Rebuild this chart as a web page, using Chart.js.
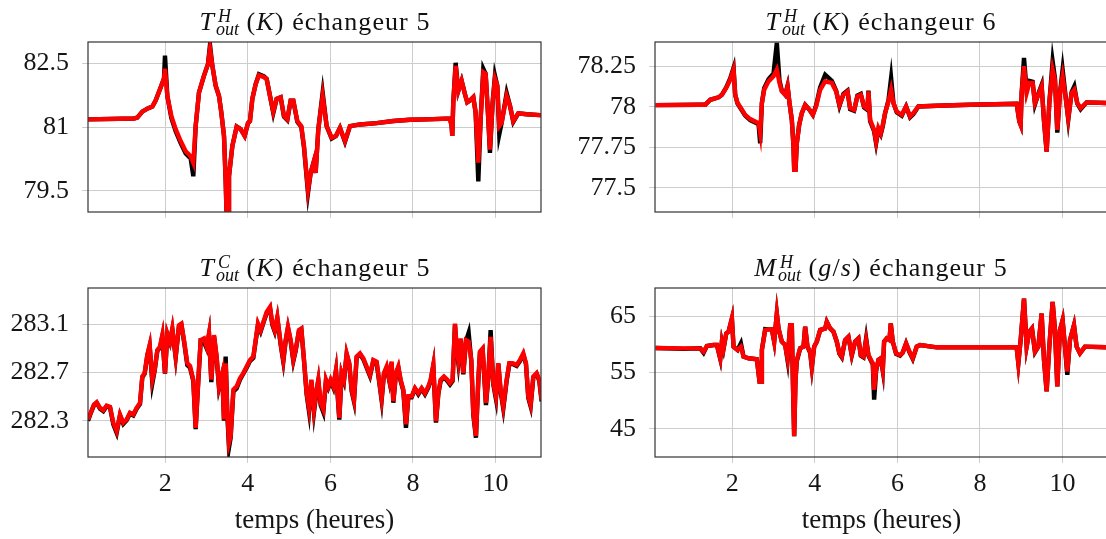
<!DOCTYPE html>
<html>
<head>
<meta charset="utf-8">
<script src="https://cdn.jsdelivr.net/npm/chart.js@4.4.1/dist/chart.umd.min.js"></script>
<style>
  html, body { margin:0; padding:0; background:#ffffff; width:1106px; height:539px; overflow:hidden; }
  canvas { position:absolute; }
  .ttl { position:absolute; font-family:'Liberation Serif', 'Times New Roman', serif; font-size:26px; line-height:30px;
         color:#111; white-space:nowrap; transform:translateX(-50%); letter-spacing:1.1px; }
  .ttl i { font-style:italic; }
  .ss { display:inline-block; vertical-align:-5px; font-size:18px; line-height:13px; font-style:italic; letter-spacing:0; margin-left:1px; }
  .ss span { display:block; }
  .ss .sup { padding-left:2px; }
</style>
</head>
<body>
<canvas id="tl" width="553" height="250" style="left:0px;top:0px"></canvas>
<canvas id="tr" width="560" height="250" style="left:560px;top:0px"></canvas>
<canvas id="bl" width="553" height="289" style="left:0px;top:250px"></canvas>
<canvas id="br" width="560" height="289" style="left:560px;top:250px"></canvas>

<div class="ttl" style="left:315px;top:7px"><i>T</i><span class="ss"><span class="sup">H</span><span class="sub">out</span></span> (<i>K</i>) échangeur 5</div>
<div class="ttl" style="left:881px;top:7px"><i>T</i><span class="ss"><span class="sup">H</span><span class="sub">out</span></span> (<i>K</i>) échangeur 6</div>
<div class="ttl" style="left:315px;top:253px"><i>T</i><span class="ss"><span class="sup">C</span><span class="sub">out</span></span> (<i>K</i>) échangeur 5</div>
<div class="ttl" style="left:881px;top:253px"><i>M</i><span class="ss"><span class="sup">H</span><span class="sub">out</span></span> (<i>g</i>/<i>s</i>) échangeur 5</div>

<script>
// ---------- shared axis values ----------
const xTicks = [2, 4, 6, 8, 10];
const xLabel = 'temps (heures)';

// ---------- T_out^H (K), échangeur 5 ----------
const tlHours = [0.131,1.245,1.325,1.446,1.567,1.689,1.769,1.874,1.971,1.995,2.052,2.149,2.254,2.375,2.496,2.617,2.681,2.738,2.818,2.940,3.036,3.085,3.141,3.222,3.303,3.359,3.424,3.464,3.488,3.521,3.545,3.626,3.731,3.827,3.924,4.005,4.053,4.110,4.191,4.271,4.392,4.457,4.538,4.618,4.699,4.796,4.877,4.957,5.038,5.103,5.200,5.296,5.361,5.458,5.522,5.603,5.643,5.708,5.813,5.910,6.031,6.136,6.232,6.353,6.475,6.717,7.120,7.524,7.927,8.331,8.896,8.936,8.952,8.976,9.033,9.098,9.178,9.259,9.315,9.380,9.461,9.517,9.582,9.638,9.703,9.760,9.824,9.864,9.929,9.985,10.042,10.090,10.147,10.268,10.349,10.429,10.550,10.752,11.075,11.12];
const tlRed = [81.18,81.20,81.22,81.36,81.43,81.48,81.62,81.89,82.14,82.37,81.73,81.26,80.95,80.67,80.43,80.31,80.16,81.02,81.81,82.21,82.48,82.84,82.45,81.97,81.73,81.34,80.79,79.76,78.89,78.97,79.84,80.55,81.01,80.95,80.79,81.09,81.14,81.66,82.01,82.22,82.17,82.13,81.73,81.36,81.66,81.70,81.26,81.18,81.62,81.62,81.14,81.02,80.55,79.52,79.92,80.20,79.92,80.95,81.73,81.02,80.75,80.79,80.98,80.67,81.02,81.06,81.09,81.14,81.17,81.18,81.20,81.02,80.79,81.58,82.44,81.85,82.09,81.77,81.58,81.62,81.70,81.34,80.16,81.18,82.29,82.25,81.18,80.47,81.58,82.13,81.97,81.02,81.10,81.73,81.50,81.14,81.32,81.30,81.28,81.28];
const tlBlack = [81.18,81.20,81.22,81.36,81.43,81.48,81.62,81.89,82.14,82.68,81.73,81.21,80.90,80.62,80.38,80.26,79.84,81.02,81.81,82.21,82.48,82.93,82.45,81.97,81.73,81.34,80.79,79.76,78.89,78.97,79.84,80.55,81.01,80.95,80.79,81.09,81.14,81.66,82.01,82.24,82.19,82.13,81.73,81.33,81.66,81.70,81.24,81.16,81.62,81.62,81.12,81.00,80.52,79.45,79.92,80.20,79.92,80.95,81.81,81.02,80.73,80.79,80.98,80.65,81.02,81.06,81.09,81.14,81.17,81.18,81.20,81.02,80.79,81.58,82.51,81.85,82.09,81.77,81.58,81.62,81.70,81.34,79.72,81.18,82.37,82.25,81.18,80.39,81.58,82.21,81.97,80.83,81.10,81.80,81.50,81.12,81.32,81.30,81.28,81.28];
const tlYTicks = [79.5, 81, 82.5];

// ---------- T_out^H (K), échangeur 6 ----------
const trHours = [0.146,1.227,1.348,1.469,1.670,1.751,1.856,1.952,2.033,2.073,2.130,2.210,2.315,2.436,2.557,2.638,2.678,2.719,2.775,2.880,3.001,3.081,3.146,3.202,3.283,3.340,3.388,3.444,3.485,3.501,3.533,3.565,3.622,3.686,3.767,3.872,3.953,4.033,4.130,4.251,4.412,4.517,4.598,4.695,4.791,4.856,4.952,5.033,5.114,5.194,5.275,5.299,5.340,5.436,5.485,5.541,5.598,5.646,5.703,5.784,5.848,5.905,5.985,6.106,6.211,6.308,6.388,6.509,6.953,7.759,8.888,8.953,8.985,9.009,9.066,9.130,9.195,9.275,9.332,9.413,9.493,9.550,9.614,9.679,9.759,9.816,9.872,9.937,10.001,10.058,10.138,10.219,10.284,10.356,10.437,10.582,11.050,11.12];
const trRed = [78.010,78.012,78.012,78.043,78.058,78.074,78.116,78.167,78.229,78.074,78.023,77.992,77.950,77.924,77.909,77.899,77.837,78.023,78.105,78.157,78.188,78.229,78.147,78.095,78.074,78.126,78.023,77.919,77.754,77.610,77.610,77.775,77.888,77.961,78.012,77.981,77.950,78.002,78.105,78.157,78.147,78.095,78.012,78.074,78.095,77.992,77.981,78.064,78.074,78.002,77.986,78.095,77.919,77.857,77.785,77.868,77.837,77.888,77.961,78.033,78.105,78.023,77.971,77.950,78.002,77.940,77.961,78.002,78.006,78.012,78.019,77.909,77.888,78.085,78.250,78.085,78.147,78.147,78.023,78.074,78.126,77.919,77.723,78.023,78.229,78.167,77.857,78.085,78.188,78.085,77.930,78.085,78.105,78.023,77.992,78.027,78.023,78.023];
const trBlack = [78.010,78.012,78.012,78.043,78.058,78.074,78.120,78.175,78.240,78.074,78.020,77.988,77.945,77.918,77.903,77.893,77.775,78.023,78.115,78.170,78.205,78.395,78.160,78.100,78.074,78.130,78.023,77.919,77.754,77.610,77.610,77.775,77.888,77.961,78.012,77.981,77.950,78.010,78.120,78.198,78.160,78.100,78.005,78.080,78.100,77.985,77.975,78.070,78.080,77.995,77.980,78.100,77.910,77.850,77.775,77.860,77.830,77.880,77.961,78.040,78.178,78.023,77.965,77.945,78.002,77.935,77.955,78.002,78.006,78.012,78.019,77.909,77.888,78.085,78.302,78.100,78.160,78.155,78.015,78.080,78.135,77.910,77.723,78.023,78.281,78.175,77.840,78.085,78.229,78.100,77.920,78.090,78.126,78.020,77.985,78.027,78.023,78.023];
const trYTicks = [77.5, 77.75, 78, 78.25];

// ---------- T_out^C (K), échangeur 5 ----------
const blHours = [0.131,0.195,0.276,0.341,0.421,0.502,0.583,0.664,0.744,0.825,0.906,0.986,1.067,1.148,1.228,1.309,1.390,1.446,1.503,1.567,1.624,1.689,1.745,1.810,1.874,1.931,1.995,2.052,2.116,2.173,2.254,2.334,2.391,2.455,2.536,2.601,2.681,2.738,2.802,2.859,2.940,3.004,3.061,3.117,3.182,3.246,3.303,3.383,3.424,3.464,3.505,3.545,3.585,3.650,3.731,3.811,3.892,3.973,4.053,4.134,4.191,4.247,4.312,4.392,4.457,4.538,4.594,4.651,4.715,4.796,4.860,4.917,4.973,5.038,5.103,5.159,5.240,5.296,5.361,5.425,5.482,5.538,5.603,5.667,5.708,5.764,5.829,5.893,5.950,6.006,6.071,6.136,6.216,6.273,6.329,6.394,6.458,6.515,6.571,6.636,6.717,6.797,6.878,6.959,7.040,7.120,7.201,7.241,7.298,7.362,7.427,7.483,7.524,7.588,7.645,7.701,7.766,7.830,7.887,7.968,8.048,8.129,8.210,8.290,8.371,8.428,8.492,8.557,8.613,8.670,8.750,8.831,8.896,8.960,9.017,9.057,9.098,9.154,9.219,9.283,9.348,9.412,9.461,9.525,9.582,9.622,9.687,9.767,9.824,9.880,9.945,10.009,10.066,10.123,10.187,10.268,10.333,10.413,10.510,10.590,10.671,10.736,10.792,10.849,10.914,10.994,11.059,11.115];
const blRed = [282.311,282.366,282.434,282.453,282.407,282.388,282.426,282.415,282.284,282.215,282.352,282.284,282.311,282.366,282.352,282.407,282.448,282.667,282.695,282.845,282.927,282.640,282.722,282.886,282.914,283.010,282.695,283.023,282.955,283.064,282.832,283.092,283.105,282.968,282.777,282.755,282.640,282.242,282.640,282.968,282.982,282.914,283.023,282.640,283.010,282.832,282.585,282.695,282.311,282.777,282.366,282.119,282.174,282.558,282.585,282.653,282.695,282.749,282.804,282.832,282.968,283.105,283.051,283.133,283.201,283.242,283.105,283.051,283.160,282.941,282.804,282.968,283.078,282.968,282.804,282.886,283.051,283.064,282.804,282.530,282.407,282.640,282.393,282.558,282.640,282.448,282.393,282.640,282.585,282.640,282.585,282.722,282.325,282.695,282.640,282.859,282.777,282.558,282.475,282.832,282.859,282.818,282.749,282.681,282.804,282.790,282.585,282.489,282.695,282.749,282.640,282.790,282.462,282.695,282.749,282.640,282.558,282.270,282.503,282.503,282.571,282.530,282.571,282.530,282.585,282.640,282.763,282.297,282.530,282.640,282.667,282.640,282.612,282.640,283.105,282.914,282.804,282.982,282.695,282.968,282.955,282.804,282.366,282.174,282.640,282.873,282.900,282.448,282.667,282.996,282.612,282.503,282.777,282.558,282.421,282.640,282.777,282.777,282.763,282.804,282.859,282.777,282.503,282.434,282.667,282.695,282.640,282.475];
const blBlack = [282.300,282.360,282.430,282.450,282.400,282.380,282.420,282.410,282.270,282.200,282.345,282.275,282.305,282.360,282.345,282.400,282.440,282.660,282.690,282.840,282.920,282.610,282.715,282.880,282.905,283.000,282.690,283.015,282.950,283.055,282.825,283.085,283.100,282.960,282.760,282.740,282.630,282.230,282.630,282.960,282.950,282.900,283.015,282.620,283.000,282.820,282.575,282.690,282.300,282.832,282.350,282.078,282.160,282.540,282.570,282.640,282.690,282.740,282.795,282.820,282.960,283.095,283.040,283.125,283.190,283.235,283.095,283.040,283.150,282.930,282.790,282.960,283.070,282.960,282.795,282.880,283.045,283.060,282.800,282.520,282.380,282.635,282.370,282.550,282.630,282.430,282.370,282.630,282.575,282.630,282.575,282.715,282.310,282.690,282.630,282.850,282.770,282.545,282.460,282.825,282.850,282.810,282.740,282.670,282.795,282.780,282.575,282.470,282.690,282.740,282.630,282.780,282.450,282.690,282.740,282.630,282.550,282.242,282.495,282.495,282.565,282.520,282.565,282.520,282.575,282.630,282.755,282.285,282.520,282.630,282.660,282.630,282.600,282.630,283.095,282.900,282.780,282.975,282.685,282.960,283.030,282.795,282.350,282.160,282.630,282.865,282.890,282.430,282.655,283.051,282.600,282.480,282.770,282.540,282.400,282.630,282.770,282.770,282.755,282.795,282.850,282.770,282.490,282.420,282.660,282.690,282.630,282.460];
const blYTicks = [282.3, 282.7, 283.1];

// ---------- M_out^H (g/s), échangeur 5 ----------
const brHours = [0.146,0.823,1.227,1.307,1.388,1.549,1.630,1.711,1.751,1.791,1.856,1.912,1.993,2.033,2.130,2.211,2.275,2.396,2.598,2.662,2.700,2.719,2.799,2.880,2.961,3.017,3.081,3.122,3.202,3.283,3.340,3.404,3.444,3.469,3.501,3.533,3.565,3.646,3.727,3.767,3.823,3.888,3.928,3.985,4.049,4.130,4.251,4.291,4.372,4.453,4.533,4.598,4.654,4.735,4.815,4.896,4.977,5.057,5.114,5.178,5.243,5.299,5.380,5.405,5.437,5.485,5.542,5.598,5.646,5.679,5.743,5.808,5.840,5.888,5.969,6.066,6.130,6.211,6.292,6.372,6.469,6.550,6.953,7.759,8.888,8.929,8.985,9.066,9.130,9.195,9.259,9.332,9.413,9.493,9.550,9.614,9.679,9.759,9.816,9.872,9.937,10.001,10.058,10.114,10.179,10.276,10.340,10.421,10.542,11.050,11.12];
const brRed = [59.35,59.29,59.29,58.71,59.71,59.88,59.88,57.53,60.47,59.29,61.94,62.24,64.59,59.59,59.00,59.59,57.82,57.53,57.35,53.41,53.41,59.00,62.53,62.65,62.65,60.47,65.47,62.82,60.47,59.88,57.53,63.41,63.41,53.71,43.71,53.71,57.24,59.29,59.59,63.12,59.59,58.71,56.06,59.59,60.47,62.53,62.82,64.00,62.82,62.24,60.47,58.41,57.82,60.76,61.35,58.12,60.47,61.06,58.12,57.82,60.76,58.12,56.94,56.65,51.94,55.47,57.24,57.53,55.47,60.47,61.06,60.76,63.71,60.47,58.41,58.12,58.53,60.18,58.71,57.53,59.59,59.88,59.47,59.47,59.47,56.65,60.76,68.12,59.59,62.24,62.82,58.71,59.59,65.47,57.24,51.65,59.59,67.53,62.53,52.53,62.53,64.29,59.59,55.18,60.76,63.41,59.59,58.41,59.59,59.47,59.47];
const brBlack = [59.35,59.20,59.29,58.50,59.71,59.88,59.88,57.40,60.47,59.20,61.94,62.24,64.59,59.59,59.00,60.20,57.82,57.53,57.35,53.41,53.41,59.00,62.70,62.65,62.65,60.47,65.47,62.82,60.47,59.88,57.20,63.41,63.41,53.71,43.71,53.71,57.00,59.29,59.59,63.12,59.59,58.50,55.90,59.59,60.47,62.53,62.82,64.00,62.82,62.24,60.47,58.30,57.70,60.76,61.35,58.00,60.47,61.06,58.00,57.70,61.06,58.00,56.80,56.50,50.18,55.30,57.24,57.53,55.30,60.47,61.06,60.76,63.71,60.47,58.30,58.00,58.53,60.18,58.60,57.40,59.59,59.88,59.47,59.47,59.47,56.65,60.76,68.12,59.59,62.24,62.82,58.60,59.59,65.47,57.24,51.65,59.59,67.53,62.53,52.53,62.53,64.29,59.59,54.59,60.76,63.41,59.59,58.41,59.59,59.47,59.47];
const brYTicks = [45, 55, 65];

// ---------- drawing ----------
const FONT = "'Liberation Serif', 'Times New Roman', serif";
const GRID = '#cdcdcd';
const TXT = '#151515';

const boxPlugin = {
  id: 'axisBox',
  afterDatasetsDraw(chart) {
    const { ctx, chartArea: a } = chart;
    ctx.save();
    ctx.strokeStyle = '#333333';
    ctx.lineWidth = 1.2;
    ctx.strokeRect(a.left, a.top, a.right - a.left, a.bottom - a.top);
    ctx.restore();
  }
};

function pts(xs, ys) { return xs.map((x, i) => ({ x: x, y: ys[i] })); }

function build(id, hours, red, black, yMin, yMax, yTicks, o) {
  return new Chart(document.getElementById(id), {
    type: 'line',
    data: {
      datasets: [
        { data: pts(hours, red), borderColor: '#ff0000', borderWidth: 4.4, pointRadius: 0, tension: 0, clip: 0, fill: false },
        { data: pts(hours, black), borderColor: '#000000', borderWidth: 4.4, pointRadius: 0, tension: 0, clip: 0, fill: false }
      ]
    },
    options: {
      responsive: false,
      animation: false,
      events: [],
      layout: { padding: { top: o.padTop, right: o.padRight, left: 0, bottom: 0 } },
      plugins: { legend: { display: false }, tooltip: { enabled: false }, title: { display: false } },
      scales: {
        x: {
          type: 'linear', min: 0.131, max: 11.1,
          afterBuildTicks: s => { s.ticks = xTicks.map(v => ({ value: v })); },
          afterFit: s => { s.height = o.xH; },
          grid: { color: GRID, lineWidth: 1, drawTicks: true, tickLength: 6, tickColor: GRID },
          border: { display: false },
          ticks: { display: o.showX, autoSkip: false, maxRotation: 0, padding: 6, color: TXT,
                   font: { family: FONT, size: 26 }, callback: v => String(v) },
          title: { display: o.showX, text: xLabel, color: TXT, font: { family: FONT, size: 27 },
                   padding: { top: 0, bottom: 2 } }
        },
        y: {
          type: 'linear', min: yMin, max: yMax,
          afterBuildTicks: s => { s.ticks = yTicks.map(v => ({ value: v })); },
          afterFit: s => { s.width = o.yW; },
          grid: { color: GRID, lineWidth: 1, drawTicks: true, tickLength: 6, tickColor: GRID },
          border: { display: false },
          ticks: { autoSkip: false, padding: 13, color: TXT, font: { family: FONT, size: 26 },
                   callback: v => String(v) }
        }
      }
    },
    plugins: [boxPlugin]
  });
}

build('tl', tlHours, tlRed, tlBlack, 79.0, 83.0, tlYTicks, { padTop: 42, padRight: 12, xH: 38, yW: 88, showX: false });
build('tr', trHours, trRed, trBlack, 77.35, 78.40, trYTicks, { padTop: 42, padRight: 12, xH: 38, yW: 95, showX: false });
build('bl', blHours, blRed, blBlack, 282.0, 283.4, blYTicks, { padTop: 38, padRight: 12, xH: 82, yW: 88, showX: true });
build('br', brHours, brRed, brBlack, 40, 70, brYTicks, { padTop: 38, padRight: 12, xH: 82, yW: 95, showX: true });
</script>
</body>
</html>
